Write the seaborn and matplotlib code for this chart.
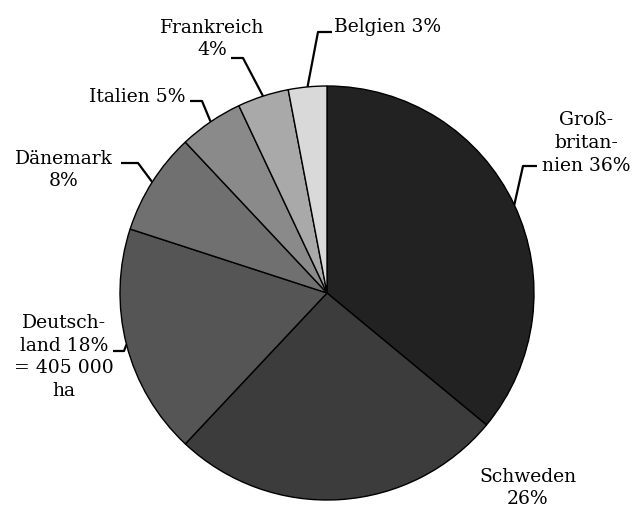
import numpy as np
import matplotlib
matplotlib.use("Agg")
import matplotlib.pyplot as plt
import seaborn as sns

# Daten
laender = ["Großbritannien", "Schweden", "Deutschland", "Dänemark", "Italien", "Frankreich", "Belgien"]
anteile = [36, 26, 18, 8, 5, 4, 3]
beschriftungen = [
    "Groß-\nbritan-\nnien 36%",
    "Schweden\n26%",
    "Deutsch-\nland 18%\n= 405 000\nha",
    "Dänemark\n8%",
    "Italien 5%",
    "Frankreich\n4%",
    "Belgien 3%",
]
farben = ["#222222", "#3c3c3c", "#555555", "#707070", "#8a8a8a", "#a9a9a9", "#d9d9d9"]

# Layout (Bildkoordinaten in Pixeln, y nach unten)
W, H = 634, 511
cx, cy, r = 327, 293, 207
text_pos = [(586, 143, "center"), (528, 488, "center"), (64, 357, "center"),
            (64, 170, "center"), (137, 97, "center"), (212, 39, "center"), (334, 27, "left")]
# Knickpunkt und Ende der Hinweislinie, None = keine Linie
linien = [((523, 166), (537, 166)), None, ((124, 351), (113, 351)),
          ((138, 163), (121, 163)), ((202, 101), (190, 101)),
          ((243, 58), (231, 58)), ((318, 32), (332, 32))]


def px(x, y):
    return x, H - y


sns.set_style("white")
plt.rcParams["font.family"] = ["DejaVu Serif"]

fig = plt.figure(figsize=(W / 100, H / 100), dpi=100)
ax = fig.add_axes([0, 0, 1, 1])

ax.pie(anteile, colors=farben, startangle=90, counterclock=False,
       radius=r, center=px(cx, cy),
       wedgeprops=dict(edgecolor="black", linewidth=1.0))

ax.set_xlim(0, W)
ax.set_ylim(0, H)
ax.set_aspect("equal")
ax.axis("off")

gesamt = sum(anteile)
kum = np.cumsum([0] + anteile[:-1])
for i, (txt, (tx, ty, ha)) in enumerate(zip(beschriftungen, text_pos)):
    ax.text(*px(tx, ty), txt, ha=ha, va="center", fontsize=13.5, color="black",
            linespacing=1.33, multialignment="center")
    if linien[i] is None:
        continue
    winkel = np.deg2rad(90 - 360 * (kum[i] + anteile[i] / 2) / gesamt)
    rand = (cx + r * np.cos(winkel), cy - r * np.sin(winkel))
    (kx, ky), (ex, ey) = linien[i]
    xs = [rand[0], kx, ex]
    ys = [H - rand[1], H - ky, H - ey]
    ax.plot(xs, ys, color="black", linewidth=1.6, solid_capstyle="butt")

fig.savefig("out.png", dpi=100)
